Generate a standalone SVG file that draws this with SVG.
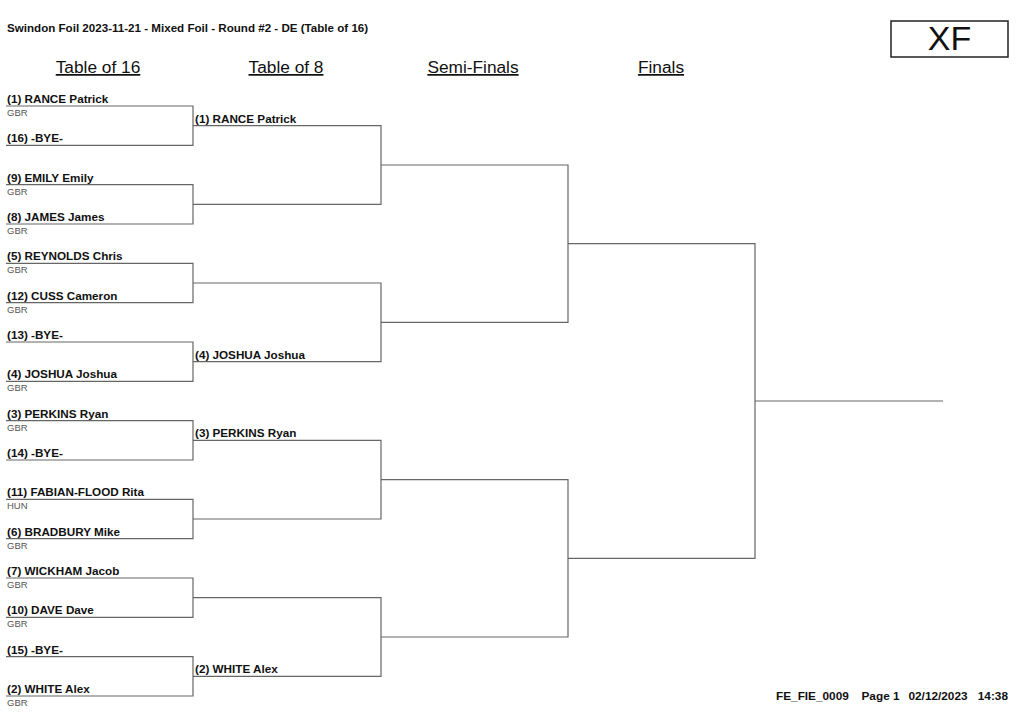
<svg xmlns="http://www.w3.org/2000/svg" width="1024" height="725" viewBox="0 0 1024 725">
<style>
text{font-family:"Liberation Sans",Arial,sans-serif;fill:#111}
.t{font-size:11.6px;font-weight:bold}
.h{font-size:17.3px;text-decoration:underline}
.n{font-size:11.7px;font-weight:bold}
.c{font-size:9.5px;fill:#555}
.f{font-size:11.8px;font-weight:bold}
.ln{fill:none;stroke:#666;stroke-width:1.2}
</style>
<rect width="1024" height="725" fill="#fff"/>
<text class="t" x="7" y="32">Swindon Foil 2023-11-21 - Mixed Foil - Round #2 - DE (Table of 16)</text>
<g id="xf"><rect x="891" y="21" width="117" height="36" fill="none" stroke="#222" stroke-width="1.5"/><text x="949.5" y="50" font-size="34" text-anchor="middle">XF</text></g>
<g id="headers">
<text class="h" x="98" y="73" text-anchor="middle">Table of 16</text>
<text class="h" x="286" y="73" text-anchor="middle">Table of 8</text>
<text class="h" x="473" y="73" text-anchor="middle">Semi-Finals</text>
<text class="h" x="661" y="73" text-anchor="middle">Finals</text>
</g>
<g id="connectors" class="ln">
<path d="M6 106H193V145.3H6M6 184.7H193V224H6M6 263.3H193V302.7H6M6 342H193V381.3H6M6 420.7H193V460H6M6 499.3H193V538.7H6M6 578H193V617.3H6M6 656.7H193V696H6"/>
<path d="M193 125.7H381V204.3H193M193 283H381V361.7H193M193 440.3H381V519H193M193 597.7H381V676.3H193"/>
<path d="M381 165H568V322.3H381M381 479.7H568V637H381"/>
<path d="M568 243.7H755V558.3H568M755 401H943"/>
</g>
<g id="t16">
<g id="p1"><text class="n" x="7" y="103">(1) RANCE Patrick</text><text class="c" x="7" y="116">GBR</text></g>
<g id="p16"><text class="n" x="7" y="142.3">(16) -BYE-</text></g>
<g id="p9"><text class="n" x="7" y="181.7">(9) EMILY Emily</text><text class="c" x="7" y="194.7">GBR</text></g>
<g id="p8"><text class="n" x="7" y="221">(8) JAMES James</text><text class="c" x="7" y="234">GBR</text></g>
<g id="p5"><text class="n" x="7" y="260.3">(5) REYNOLDS Chris</text><text class="c" x="7" y="273.3">GBR</text></g>
<g id="p12"><text class="n" x="7" y="299.7">(12) CUSS Cameron</text><text class="c" x="7" y="312.7">GBR</text></g>
<g id="p13"><text class="n" x="7" y="339">(13) -BYE-</text></g>
<g id="p4"><text class="n" x="7" y="378.3">(4) JOSHUA Joshua</text><text class="c" x="7" y="391.3">GBR</text></g>
<g id="p3"><text class="n" x="7" y="417.7">(3) PERKINS Ryan</text><text class="c" x="7" y="430.7">GBR</text></g>
<g id="p14"><text class="n" x="7" y="457">(14) -BYE-</text></g>
<g id="p11"><text class="n" x="7" y="496.3">(11) FABIAN-FLOOD Rita</text><text class="c" x="7" y="509.3">HUN</text></g>
<g id="p6"><text class="n" x="7" y="535.7">(6) BRADBURY Mike</text><text class="c" x="7" y="548.7">GBR</text></g>
<g id="p7"><text class="n" x="7" y="575">(7) WICKHAM Jacob</text><text class="c" x="7" y="588">GBR</text></g>
<g id="p10"><text class="n" x="7" y="614.3">(10) DAVE Dave</text><text class="c" x="7" y="627.3">GBR</text></g>
<g id="p15"><text class="n" x="7" y="653.7">(15) -BYE-</text></g>
<g id="p2"><text class="n" x="7" y="693">(2) WHITE Alex</text><text class="c" x="7" y="706">GBR</text></g>
</g>
<g id="t8">
<g id="w1"><text class="n" x="195" y="122.7">(1) RANCE Patrick</text></g>
<g id="w4"><text class="n" x="195" y="358.7">(4) JOSHUA Joshua</text></g>
<g id="w3"><text class="n" x="195" y="437.3">(3) PERKINS Ryan</text></g>
<g id="w2"><text class="n" x="195" y="673.3">(2) WHITE Alex</text></g>
</g>
<g id="footer">
<text class="f" x="776" y="700">FE_FIE_0009</text>
<text class="f" x="861.5" y="700">Page 1</text>
<text class="f" x="908.5" y="700">02/12/2023</text>
<text class="f" x="1008" y="700" text-anchor="end">14:38</text>
</g>
</svg>
